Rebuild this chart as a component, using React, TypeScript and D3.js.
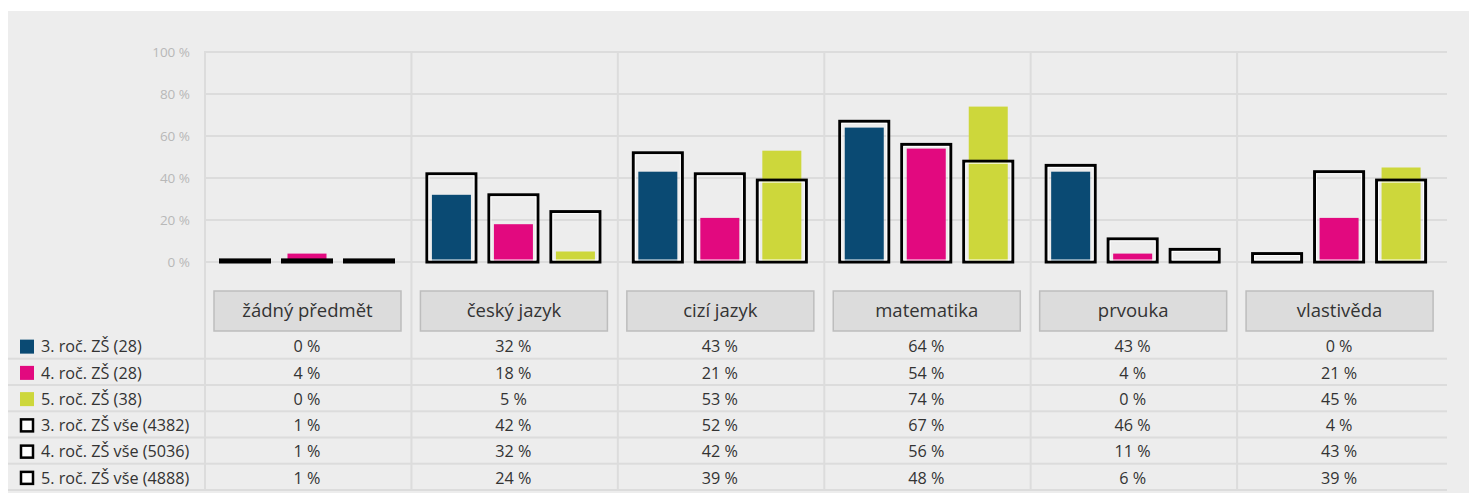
import React from 'react'
import * as d3 from 'd3'

// subjects (columns)
const categories = ['žádný předmět', 'český jazyk', 'cizí jazyk', 'matematika', 'prvouka', 'vlastivěda']

// series shown as filled bars
const seriesNames = ['3. roč. ZŠ (28)', '4. roč. ZŠ (28)', '5. roč. ZŠ (38)']
const seriesColors = ['#0a4a73', '#e2097f', '#cdd73b']
const grade3 = [0, 32, 43, 64, 43, 0]
const grade4 = [4, 18, 21, 54, 4, 21]
const grade5 = [0, 5, 53, 74, 0, 45]

// series shown as outlined bars (all schools)
const totalNames = ['3. roč. ZŠ vše (4382)', '4. roč. ZŠ vše (5036)', '5. roč. ZŠ vše (4888)']
const total3 = [1, 42, 52, 67, 46, 4]
const total4 = [1, 32, 42, 56, 11, 43]
const total5 = [1, 24, 39, 48, 6, 39]

const yTicks = [0, 20, 40, 60, 80, 100]

const W = 1477
const H = 501
const FONT = '"Open Sans", "Noto Sans", sans-serif'

export default function App() {
  const fills = [grade3, grade4, grade5]
  const totals = [total3, total4, total5]

  const x = d3.scaleBand<string>().domain(categories).range([205, 1443.5])
  const slot = d3.scaleBand<number>().domain([0, 1, 2]).range([14, 190]).paddingInner(10 / 62)
  const y = d3.scaleLinear().domain([0, 100]).range([262, 52])

  const rows = [...seriesNames, ...totalNames]
  const rowY = d3.scaleBand<string>().domain(rows).range([333.5, 491])
  const rowVals = [...fills, ...totals]

  const bw = slot.bandwidth()

  return (
    <div style={{ margin: '-8px' }}>
      <svg width={W} height={H} style={{ display: 'block', fontFamily: FONT }}>
        <rect x={7} y={11} width={W - 7} height={H - 11} fill="#ededed" />

        {/* horizontal grid + y labels */}
        {yTicks.map(t => (
          <g key={t}>
            <line x1={205} x2={1447} y1={y(t)} y2={y(t)} stroke="#dcdcdc" strokeWidth={2} />
            <text x={190} y={y(t)} dy="0.35em" textAnchor="end" fontSize={13.5} fill="#b8b8b8">
              {t} %
            </text>
          </g>
        ))}

        {/* vertical column lines */}
        {categories.map(c => (
          <line key={c} x1={x(c)!} x2={x(c)!} y1={51} y2={490} stroke="#dcdcdc" strokeWidth={2} />
        ))}

        {/* table row separators */}
        {rows.map(r => (
          <line key={r} x1={7} x2={1447} y1={rowY(r)! + rowY.bandwidth() - 1} y2={rowY(r)! + rowY.bandwidth() - 1}
            stroke="#dcdcdc" strokeWidth={2} />
        ))}

        {/* bars */}
        {categories.map((c, ci) => (
          <g key={c} transform={`translate(${x(c)},0)`}>
            {fills.map((s, si) => {
              const h = Math.max(1, y(0) - y(s[ci]))
              return (
                <rect key={'f' + si} x={slot(si)! + 6.5} width={bw - 13} y={y(0) - h} height={h} fill={seriesColors[si]} />
              )
            })}
            {totals.map((s, si) => {
              const top = y(s[ci])
              return (
                <g key={'t' + si}>
                  <rect x={slot(si)! + 1.5} width={bw - 3} y={top} height={y(0) - top}
                    fill="none" stroke="#000" strokeWidth={3} />
                  <rect x={slot(si)! + 3.5} width={Math.max(0, bw - 7)} y={top + 2} height={Math.max(0, y(0) - top - 4)}
                    fill="none" stroke="#fff" strokeWidth={1} />
                </g>
              )
            })}
          </g>
        ))}

        {/* table header boxes */}
        {categories.map(c => (
          <g key={c}>
            <rect x={x(c)! + 9} y={291} width={187} height={40} fill="#dcdcdc" stroke="#bdbdbd" strokeWidth={1.5} />
            <text x={x(c)! + 102.5} y={311} dy="0.35em" textAnchor="middle" fontSize={18.5} fill="#333">
              {c}
            </text>
          </g>
        ))}

        {/* table rows */}
        {rows.map((r, ri) => {
          const cy = rowY(r)! + rowY.bandwidth() / 2
          const filled = ri < 3
          return (
            <g key={r}>
              {filled ? (
                <rect x={20} y={cy - 7} width={14} height={14} fill={seriesColors[ri]} />
              ) : (
                <rect x={21} y={cy - 6} width={12} height={12} fill="#fff" stroke="#000" strokeWidth={2.5} />
              )}
              <text x={41} y={cy} dy="0.35em" fontSize={16.2} fill="#333">{r}</text>
              {categories.map((c, ci) => (
                <text key={c} x={x(c)! + 102} y={cy} dy="0.35em" textAnchor="middle" fontSize={16.2} fill="#333">
                  {rowVals[ri][ci]} %
                </text>
              ))}
            </g>
          )
        })}
      </svg>
    </div>
  )
}
